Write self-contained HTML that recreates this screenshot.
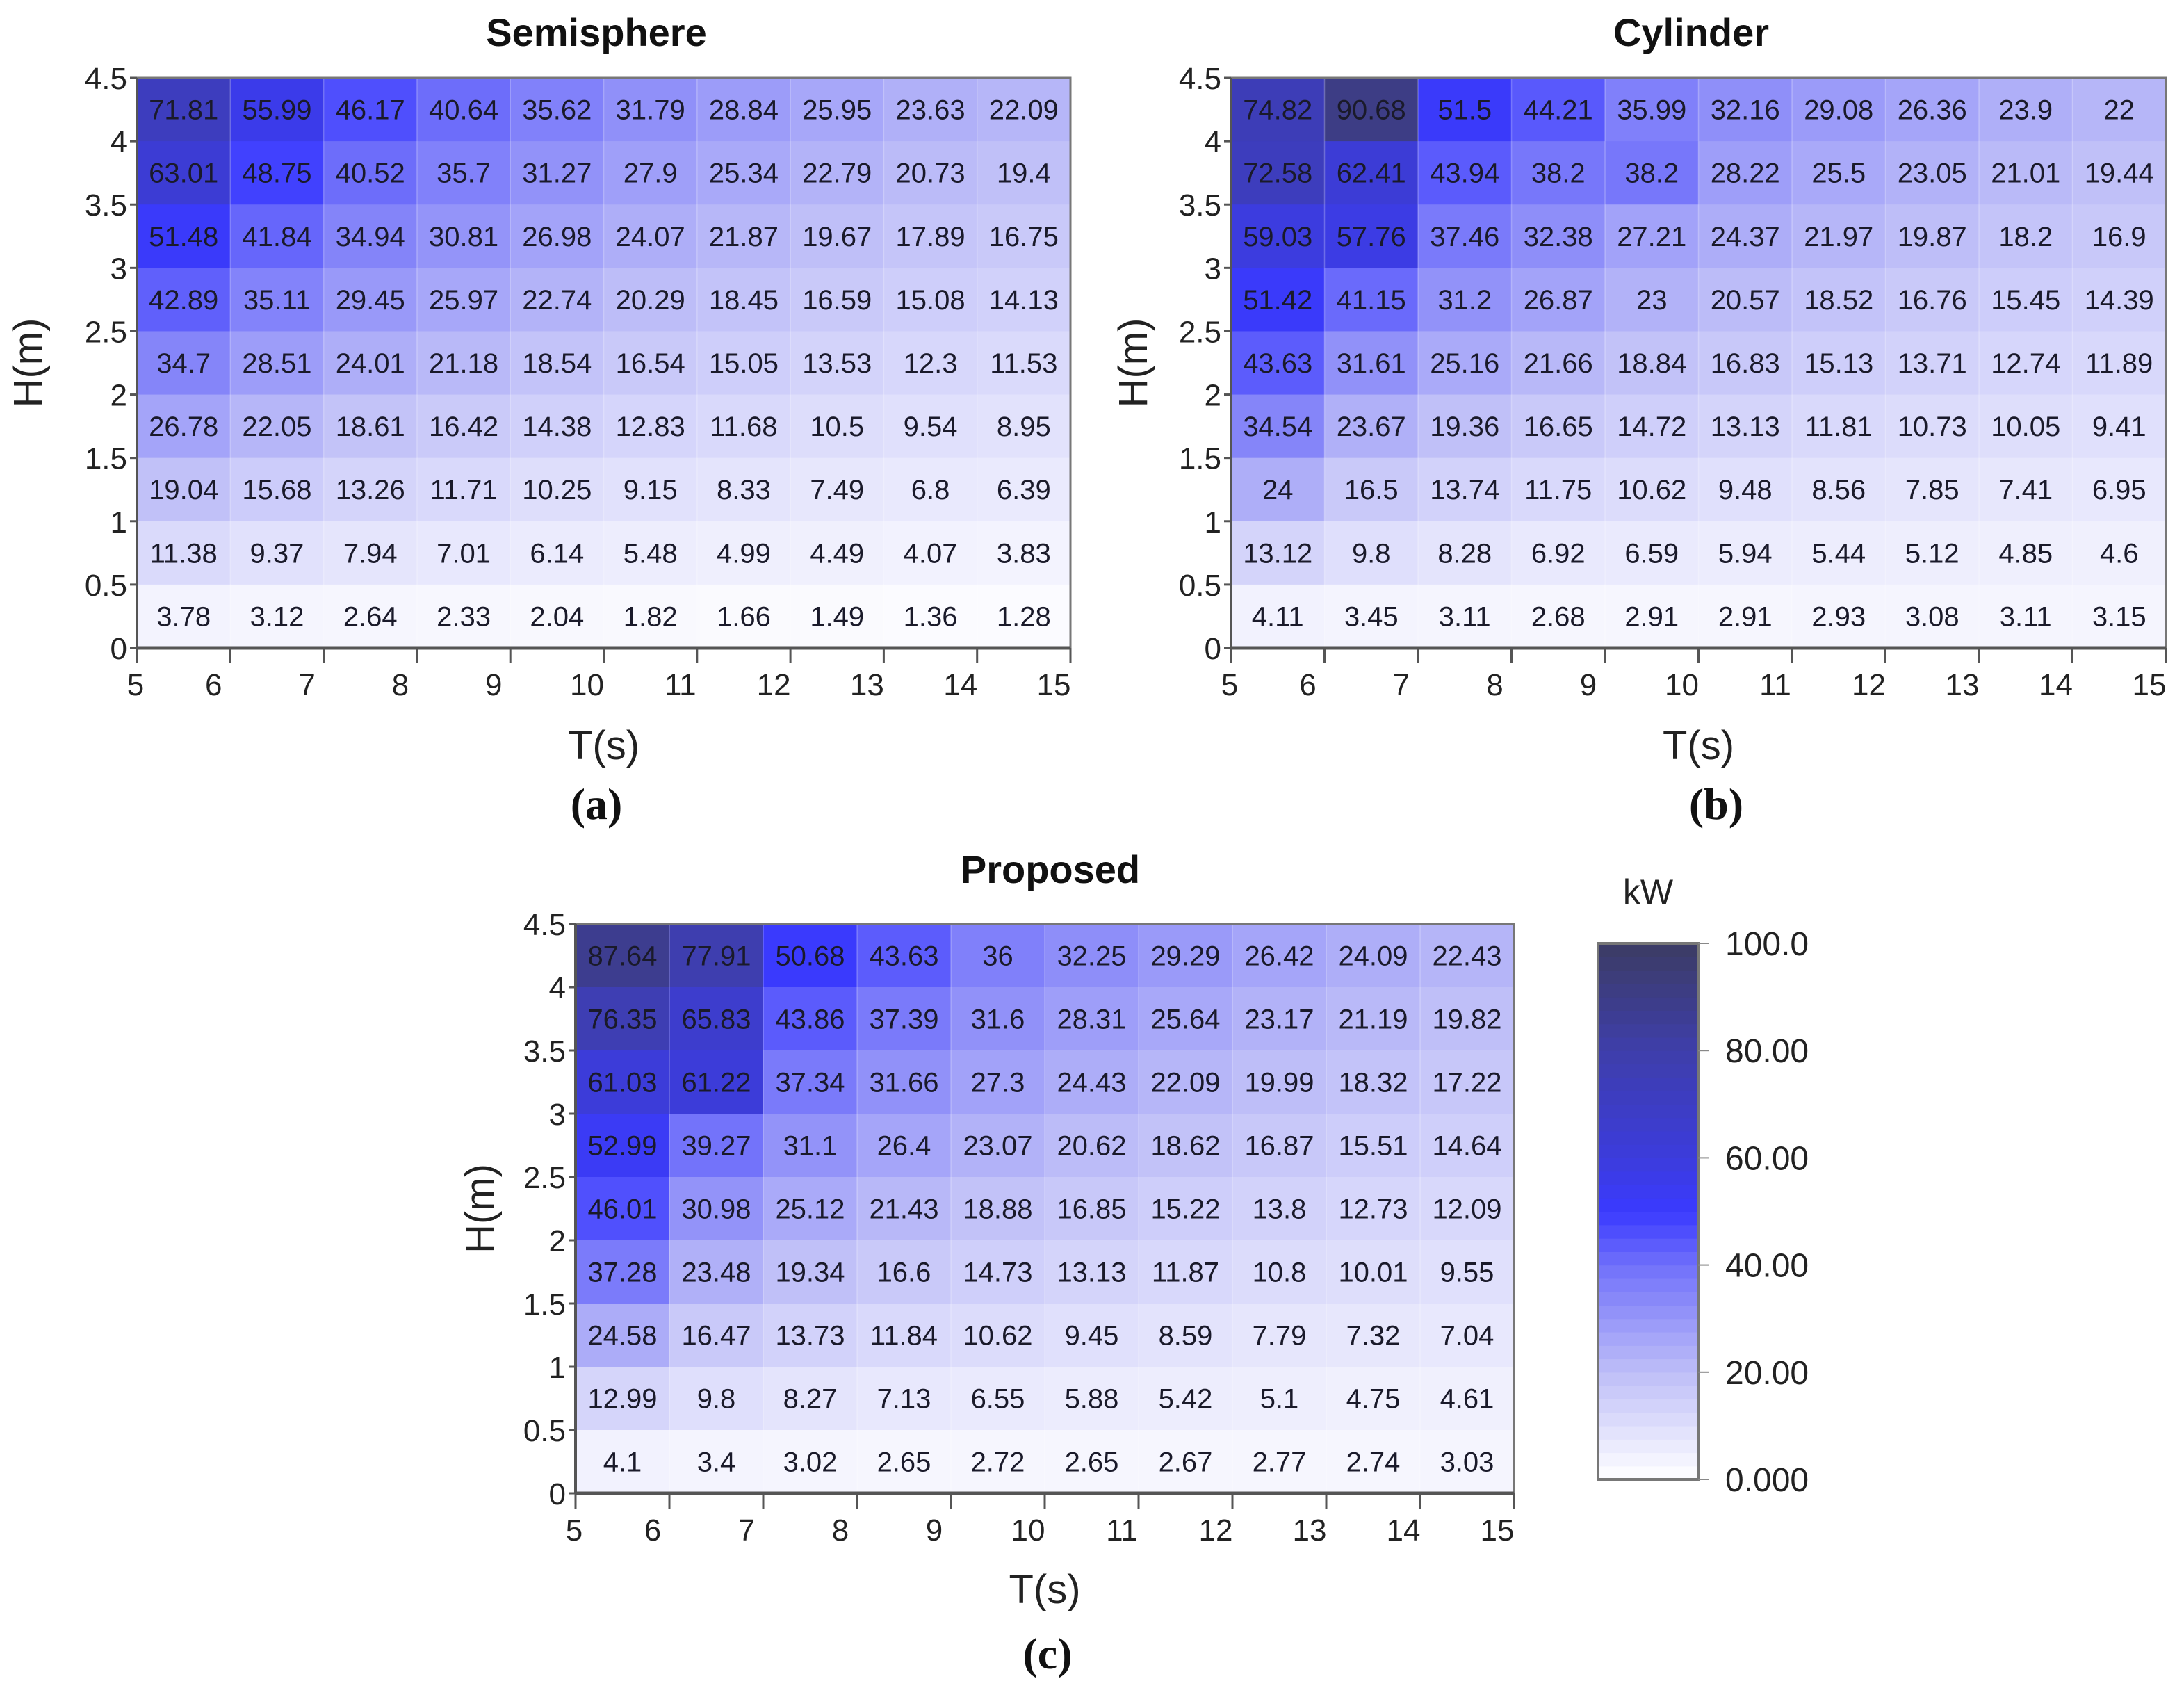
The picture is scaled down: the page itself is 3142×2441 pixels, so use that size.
<!DOCTYPE html>
<html><head><meta charset="utf-8">
<style>
html,body{margin:0;padding:0;background:#fff;}
svg{display:block;font-family:"Liberation Sans",Arial,sans-serif;}
</style></head>
<body>
<svg id="c" width="3142" height="2441" viewBox="0 0 3142 2441" xmlns="http://www.w3.org/2000/svg"></svg>
<script>
// categories
const tTicks = [5,6,7,8,9,10,11,12,13,14,15];
const hTicks = ["0","0.5","1","1.5","2","2.5","3","3.5","4","4.5"];
const cbTicks = ["0.000","20.00","40.00","60.00","80.00","100.0"];
// values rows top (H 4-4.5) to bottom (H 0-0.5)
const semisphere = [
[71.81,55.99,46.17,40.64,35.62,31.79,28.84,25.95,23.63,22.09],
[63.01,48.75,40.52,35.7,31.27,27.9,25.34,22.79,20.73,19.4],
[51.48,41.84,34.94,30.81,26.98,24.07,21.87,19.67,17.89,16.75],
[42.89,35.11,29.45,25.97,22.74,20.29,18.45,16.59,15.08,14.13],
[34.7,28.51,24.01,21.18,18.54,16.54,15.05,13.53,12.3,11.53],
[26.78,22.05,18.61,16.42,14.38,12.83,11.68,10.5,9.54,8.95],
[19.04,15.68,13.26,11.71,10.25,9.15,8.33,7.49,6.8,6.39],
[11.38,9.37,7.94,7.01,6.14,5.48,4.99,4.49,4.07,3.83],
[3.78,3.12,2.64,2.33,2.04,1.82,1.66,1.49,1.36,1.28]];
const cylinder = [
[74.82,90.68,51.5,44.21,35.99,32.16,29.08,26.36,23.9,22],
[72.58,62.41,43.94,38.2,38.2,28.22,25.5,23.05,21.01,19.44],
[59.03,57.76,37.46,32.38,27.21,24.37,21.97,19.87,18.2,16.9],
[51.42,41.15,31.2,26.87,23,20.57,18.52,16.76,15.45,14.39],
[43.63,31.61,25.16,21.66,18.84,16.83,15.13,13.71,12.74,11.89],
[34.54,23.67,19.36,16.65,14.72,13.13,11.81,10.73,10.05,9.41],
[24,16.5,13.74,11.75,10.62,9.48,8.56,7.85,7.41,6.95],
[13.12,9.8,8.28,6.92,6.59,5.94,5.44,5.12,4.85,4.6],
[4.11,3.45,3.11,2.68,2.91,2.91,2.93,3.08,3.11,3.15]];
const proposed = [
[87.64,77.91,50.68,43.63,36,32.25,29.29,26.42,24.09,22.43],
[76.35,65.83,43.86,37.39,31.6,28.31,25.64,23.17,21.19,19.82],
[61.03,61.22,37.34,31.66,27.3,24.43,22.09,19.99,18.32,17.22],
[52.99,39.27,31.1,26.4,23.07,20.62,18.62,16.87,15.51,14.64],
[46.01,30.98,25.12,21.43,18.88,16.85,15.22,13.8,12.73,12.09],
[37.28,23.48,19.34,16.6,14.73,13.13,11.87,10.8,10.01,9.55],
[24.58,16.47,13.73,11.84,10.62,9.45,8.59,7.79,7.32,7.04],
[12.99,9.8,8.27,7.13,6.55,5.88,5.42,5.1,4.75,4.61],
[4.1,3.4,3.02,2.65,2.72,2.65,2.67,2.77,2.74,3.03]];

const NS="http://www.w3.org/2000/svg";
const svg=document.getElementById('c');
function mk(tag,attrs,parent){const e=document.createElementNS(NS,tag);for(const k in attrs)e.setAttribute(k,attrs[k]);(parent||svg).appendChild(e);return e;}
const stops=[[0,[255,255,255]],[20,[190,190,248]],[40,[112,112,250]],[50,[58,58,255]],[60,[60,60,220]],[80,[62,62,170]],[100,[60,60,100]]];
function color(v){
  v=Math.max(0,Math.min(100,v));
  for(let i=1;i<stops.length;i++){
    if(v<=stops[i][0]){const a=stops[i-1],b=stops[i];const t=(v-a[0])/(b[0]-a[0]);
      const c=a[1].map((x,j)=>Math.round(x+(b[1][j]-x)*t));return `rgb(${c[0]},${c[1]},${c[2]})`;}
  }
  return 'rgb(60,60,100)';
}
function panel(name,data,x0,x1,y0,y1,title,tx,ty,letter,lx,ly,hx,tty){
  const g=mk('g',{});
  
  
  const nc=tTicks.length-1, nr=hTicks.length-1;
  const xs=i=>x0+(x1-x0)*i/nc;
  const ys=j=>y0+(y1-y0)*j/nr;
  data.forEach((row,r)=>row.forEach((v,c)=>{
    const rect=mk('rect',{x:xs(c),y:ys(r),width:xs(c+1)-xs(c)+0.5,height:ys(r+1)-ys(r)+0.5,fill:color(v)},g);
    
    
    const t=mk('text',{x:(xs(c)+xs(c+1))/2,y:(ys(r)+ys(r+1))/2+14,'font-size':40,'text-anchor':'middle',fill:'#1a1a2a'},g);
    
    
    t.textContent=v;
  }));
  for(let c=1;c<nc;c++) mk('line',{x1:xs(c),x2:xs(c),y1:y0,y2:y1,stroke:'rgba(255,255,255,0.25)','stroke-width':1.5},g);
  mk('rect',{x:x0,y:y0,width:x1-x0,height:y1-y0,fill:'none',stroke:'#777','stroke-width':3},g);
  mk('line',{x1:x0,x2:x1,y1:y1,y2:y1,stroke:'#555','stroke-width':5},g);
  mk('line',{x1:x0,x2:x0,y1:y0,y2:y1,stroke:'#555','stroke-width':4},g);
  tTicks.forEach((tv,i)=>{
    mk('line',{x1:xs(i),x2:xs(i),y1:y1,y2:y1+22,stroke:'#555','stroke-width':3},g);
    const t=mk('text',{x:xs(i)-(i===0?2:24),y:y1+68,'font-size':44,'text-anchor':'middle',fill:'#222'},g);
    
    
    t.textContent=tv;
  });
  hTicks.forEach((hv,j)=>{
    const yy=y1-(y1-y0)*j/nr;
    mk('line',{x1:x0-10,x2:x0,y1:yy,y2:yy,stroke:'#555','stroke-width':3},g);
    const t=mk('text',{x:x0-14,y:yy+16,'font-size':44,'text-anchor':'end',fill:'#222'},g);
    
    
    t.textContent=hv;
  });
  const tt=mk('text',{x:tx,y:ty,'font-size':56,'font-weight':'bold','text-anchor':'middle',fill:'#111'},g);
  
  
  tt.textContent=title;
  const xt=mk('text',{x:(x0+x1)/2,y:tty,'font-size':58,'text-anchor':'middle',fill:'#222'},g);
  
  
  xt.textContent='T(s)';
  const yt=mk('text',{x:0,y:0,'font-size':58,'text-anchor':'middle',fill:'#222',transform:`translate(${hx},${(y0+y1)/2}) rotate(-90)`},g);
  
  
  yt.textContent='H(m)';
  const lt=mk('text',{x:lx,y:ly,'font-size':64,'font-weight':'bold','text-anchor':'middle',fill:'#111','font-family':'"Liberation Serif",serif'},g);
  
  
  lt.textContent=letter;
}
panel('semisphere',semisphere,197,1540,112,932,'Semisphere',858,66,'(a)',858,1178,60,1092);
panel('cylinder',cylinder,1771,3116,112,932,'Cylinder',2433,66,'(b)',2469,1178,1650,1092);
panel('proposed',proposed,828,2178,1329,2148,'Proposed',1511,1270,'(c)',1507,2400,710,2306);

// colorbar
const cb=mk('g',{});


const cx0=2299,cx1=2443,cy0=1357,cy1=2128;
for(let v=0;v<100;v+=2.5){
  const yA=cy1-(cy1-cy0)*(v+2.5)/100, yB=cy1-(cy1-cy0)*v/100;
  mk('rect',{x:cx0,y:yA,width:cx1-cx0,height:yB-yA+0.6,fill:color(v+1.25)},cb);
}
mk('rect',{x:cx0,y:cy0,width:cx1-cx0,height:cy1-cy0,fill:'none',stroke:'#777','stroke-width':4},cb);
cbTicks.forEach((lab,i)=>{
  const yy=cy1-(cy1-cy0)*i/(cbTicks.length-1);
  mk('line',{x1:cx1,x2:cx1+16,y1:yy,y2:yy,stroke:'#888','stroke-width':2},cb);
  const t=mk('text',{x:2482,y:yy+17,'font-size':48,fill:'#222'},cb);
  
  
  t.textContent=lab;
});
const kw=mk('text',{x:2371,y:1300,'font-size':50,'text-anchor':'middle',fill:'#222'},cb);


kw.textContent='kW';
</script>
</body></html>
